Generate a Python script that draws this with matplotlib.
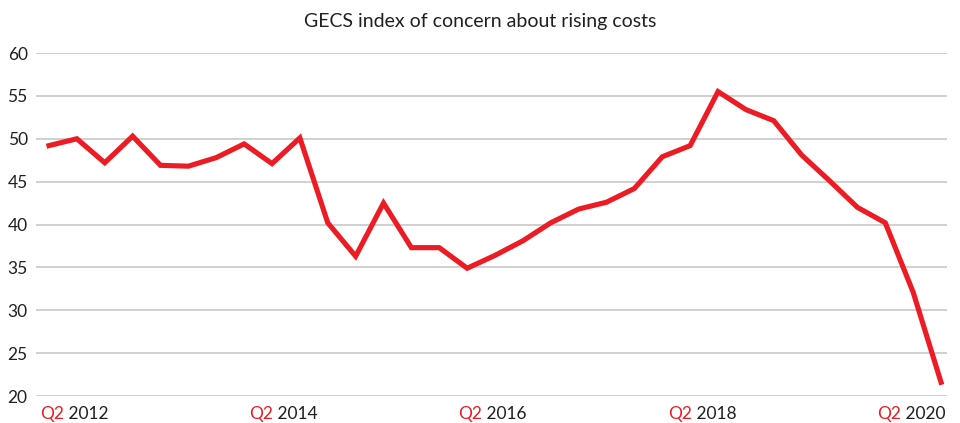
import matplotlib
matplotlib.use('Agg')
import matplotlib.pyplot as plt

plt.rcParams['font.family'] = ['Lato', 'DejaVu Sans']

# quarterly GECS index, Q2 2012 .. Q2 2020
values = [49.2, 50.0, 47.2, 50.3, 46.9, 46.8, 47.8, 49.4, 47.1, 50.1,
          40.2, 36.3, 42.5, 37.3, 37.3, 34.9, 36.4, 38.1, 40.2, 41.8,
          42.6, 44.2, 47.9, 49.2, 55.5, 53.4, 52.1, 48.1, 45.1, 42.0,
          40.2, 32.1, 21.6]
years = ['2012', '2014', '2016', '2018', '2020']
quarter = 'Q2'
yticks = [20, 25, 30, 35, 40, 45, 50, 55, 60]

red = '#ed1c24'
dark = '#231f20'

fig = plt.figure(figsize=(9.6, 4.23), dpi=100)
ax = fig.add_axes([0.0375, 0.0638, 0.9490, 0.8109])

x = list(range(len(values)))
ax.plot(x, values, color=red, linewidth=3.7, solid_joinstyle='miter', zorder=3)

ax.set_xlim(-0.466, len(values) - 1 + 0.215)
ax.set_ylim(20, 60)
ax.set_yticks(yticks)
ax.set_yticklabels([str(t) for t in yticks], fontsize=12.5, color=dark)
ax.set_xticks([])
ax.tick_params(axis='y', length=0, pad=6)
ax.grid(axis='y', color='#c4c4c4', linewidth=1.1)
ax.set_axisbelow(True)
for s in ax.spines.values():
    s.set_visible(False)

# x labels spread evenly across the axis width
for i, yr in enumerate(years):
    fx = 0.0044 + i * 0.2297
    t = ax.text(fx, -0.052, quarter, transform=ax.transAxes, color=red,
                fontsize=12.5, ha='left', va='center')
    ax.annotate(' ' + yr, xy=(1, 0), xycoords=t, color=dark,
                fontsize=12.5, ha='left', va='bottom')

fig.text(0.5, 0.950, 'GECS index of concern about rising costs',
         ha='center', va='center', fontsize=14, color=dark)

fig.savefig('out.png', dpi=100)
